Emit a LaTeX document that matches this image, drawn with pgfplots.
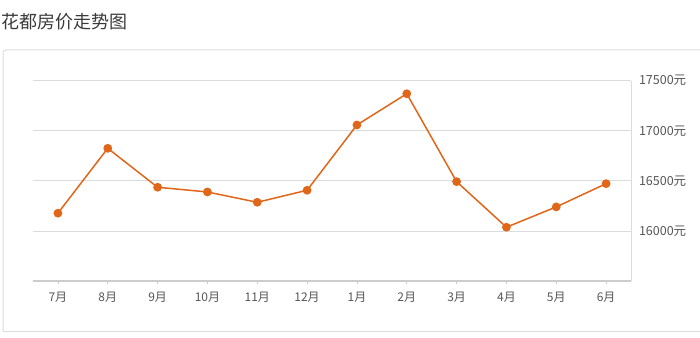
\documentclass[border=0pt]{standalone}
\usepackage{pgfplots}
\pgfplotsset{compat=1.18}
\usepackage{fontspec}
\setmainfont{Noto Sans CJK SC}
\definecolor{lineor}{HTML}{E0661A}
\definecolor{gridc}{HTML}{DCDCDC}
\definecolor{axc}{HTML}{CCCCCC}
\definecolor{txt}{HTML}{555555}
\definecolor{ttl}{HTML}{3A3A3A}
\begin{document}
\begin{tikzpicture}
\useasboundingbox (0pt,0pt) rectangle (700pt,337pt);
\draw[color=gridc, line width=1pt, rounded corners=3pt] (3pt,6pt) -- (3pt,287pt) -- (720pt,287pt);
\draw[color=gridc, line width=1pt] (3pt,6pt) -- (720pt,6pt);
\node[anchor=west, font=\fontsize{18}{21}\selectfont, text=ttl, inner sep=0pt] at (1pt,315.5pt) {花都房价走势图};
\begin{axis}[
  at={(33pt,56pt)}, anchor=south west,
  scale only axis, width=598pt, height=200.3pt,
  xmin=-0.5, xmax=11.5, ymin=15500, ymax=17500,
  xtick={0,...,11},
  xticklabels={7月,8月,9月,10月,11月,12月,1月,2月,3月,4月,5月,6月},
  ytick={16000,16500,17000,17500},
  yticklabels={16000元,16500元,17000元,17500元},
  scaled y ticks=false,
  yticklabel pos=right,
  ymajorgrids, major grid style={gridc, line width=0.8pt},
  axis line style={draw=none},
  x tick label style={font=\fontsize{12}{14}\selectfont, text=txt, yshift=-4.5pt},
  y tick label style={font=\fontsize{12.5}{14}\selectfont, text=txt, xshift=4.5pt},
  xtick style={draw=axc, line width=0.8pt},
  major tick length=3pt,
  xtick pos=bottom, xtick align=outside,
  ytick style={draw=none},
  /pgf/number format/assume math mode=true,
  clip=false,
]
\draw[axc, line width=1.6pt] (axis cs:-0.5,15500) -- (axis cs:11.5,15500);
\draw[gridc, line width=0.8pt] (axis cs:11.5,15500) -- (axis cs:11.5,17500);
\addplot[color=lineor, line width=1.5pt, mark=*, mark size=3.6pt, mark options={fill=lineor, draw=lineor}]
coordinates {
(0,16177) (1,16825) (2,16436) (3,16389) (4,16286) (5,16406)
(6,17058) (7,17370) (8,16492) (9,16037) (10,16240) (11,16472)
};
\end{axis}
\end{tikzpicture}
\end{document}
